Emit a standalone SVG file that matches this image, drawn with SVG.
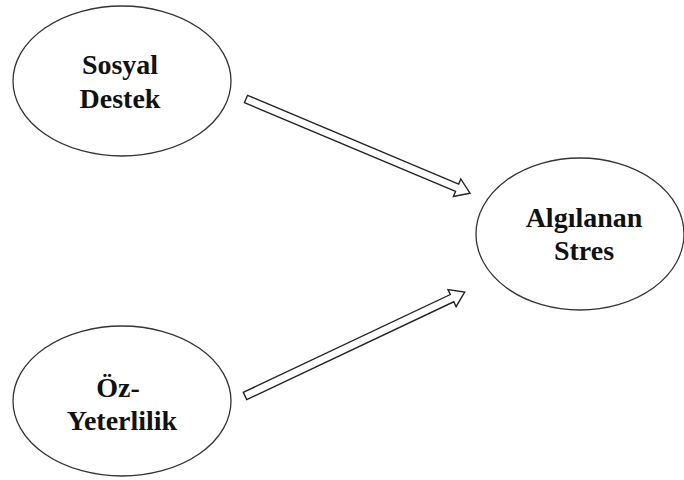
<svg xmlns="http://www.w3.org/2000/svg" xmlns:xlink="http://www.w3.org/1999/xlink" width="684" height="480" viewBox="0 0 684 480">
<style>
.node ellipse{fill:#fff;stroke:#333;stroke-width:1.3}
.node text{font-family:"Liberation Serif","Times New Roman",serif;font-weight:bold;font-size:28px;fill:#111;text-anchor:middle}
.arr{fill:#fff;stroke:#222;stroke-width:1.4;stroke-linejoin:miter}
</style>
<defs>
<polygon id="blockArrow" class="arr" points="0,-4 229,-4 229,-9.5 243,0 229,9.5 229,4 0,4"/>
</defs>
<rect width="684" height="480" fill="#fff"/>
<g id="connectors">
<use xlink:href="#blockArrow" transform="translate(246,99) rotate(22.8)"/>
<use xlink:href="#blockArrow" transform="translate(245,396) rotate(-25.3)"/>
</g>
<g id="sosyal-destek" class="node">
<ellipse cx="122" cy="81" rx="109" ry="75"/>
<text x="120" y="74">Sosyal</text>
<text x="120" y="108">Destek</text>
</g>
<g id="oz-yeterlilik" class="node">
<ellipse cx="122" cy="401" rx="109" ry="75"/>
<text x="118" y="397">Öz-</text>
<text x="122" y="430">Yeterlilik</text>
</g>
<g id="algilanan-stres" class="node">
<ellipse cx="580" cy="234" rx="104" ry="76"/>
<text x="584" y="227">Algılanan</text>
<text x="584" y="260">Stres</text>
</g>
</svg>
